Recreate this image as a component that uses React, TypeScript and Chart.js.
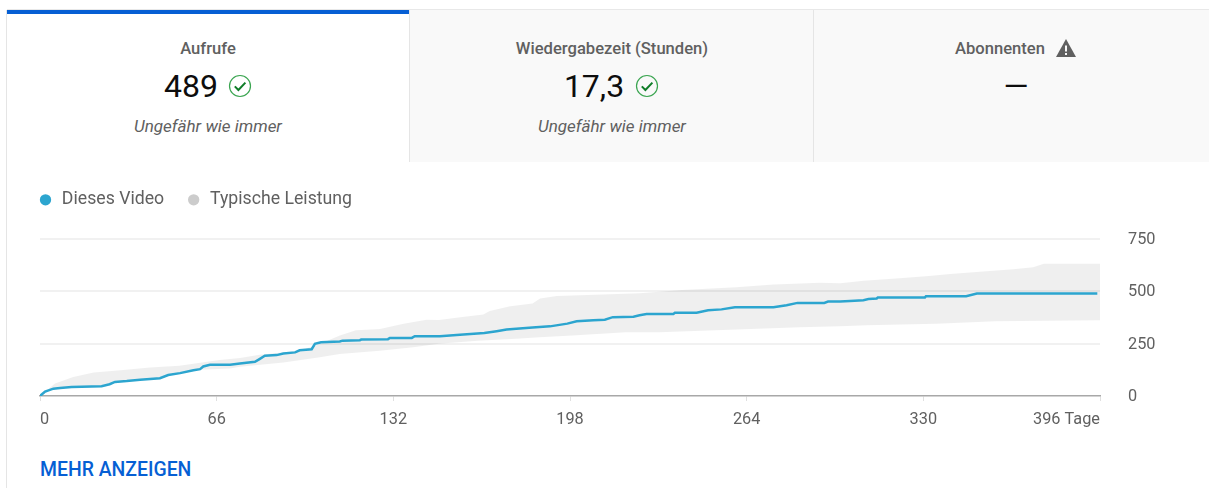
import React, { useEffect, useRef } from "react";
import { Chart, registerables } from "chart.js";

Chart.register(...registerables);

const lineDays = [0, 1.9, 5, 7.5, 11.8, 23, 26, 28, 32.4, 37.4, 44.8, 47.9, 52.3, 57.3, 59.8, 61, 63.5, 71, 74.7, 80.3, 82, 84, 88.4, 90.9, 95.3, 97, 101.5, 102.7, 105, 112, 113, 119.5, 120, 130, 130.7, 138.9, 140, 149.4, 156.9, 166, 170.6, 174.3, 184, 190.5, 197, 200.5, 206.7, 211, 214, 221.7, 224, 226.6, 236.6, 237.2, 245.3, 249.6, 254.6, 259.6, 274, 278.9, 283, 293, 294.4, 298.9, 302.6, 307.6, 309.5, 312.6, 313, 330.6, 331, 346, 350, 395];
const lineValues = [0, 21, 35, 38, 43, 47, 56, 67, 71, 77, 85, 100, 109, 123, 128, 141, 149, 149, 155, 163, 176, 192, 195, 203, 208, 218, 223, 249, 256, 260, 264, 266, 269, 271, 277, 277, 285, 285, 292, 300, 309, 317, 327, 332, 345, 356, 361, 364, 376, 378, 385, 391, 391, 397, 397, 409, 413, 423, 423, 433, 444, 444, 450, 450, 453, 457, 462, 465, 470, 470, 476, 476, 489, 489];
const upperDays = [0, 5.6, 12.4, 20, 30, 41, 52, 67, 74.7, 82, 97, 104, 112, 118, 127, 135.8, 144.4, 149, 157, 165.6, 168, 175.6, 184, 186.8, 193, 224, 239.7, 260, 274, 291.4, 299, 307.6, 321, 332, 340, 351, 363.5, 371, 375, 396];
const upperValues = [0, 60, 91, 112, 123, 136, 144, 172, 181, 197, 216, 245, 288, 313, 320, 345, 364, 362, 376, 388, 405, 428, 441, 465, 477, 490, 505, 518, 532, 540, 537, 550, 561, 572, 582, 593, 604, 614, 630, 630];
const lowerDays = [0, 5, 23, 28, 45, 48, 60, 71, 74.7, 91, 104, 112, 127, 139.5, 149, 163.6, 178, 186.8, 199, 219, 231.6, 257.8, 284, 299, 309, 335, 357, 396];
const lowerValues = [0, 35, 46, 67, 85, 100, 125, 131, 140, 160, 184, 200, 216, 232, 249, 264, 273, 280, 288, 304, 304, 316, 328, 333, 337, 345, 356, 361];
const xTicks = [0, 66, 132, 198, 264, 330, 396];
const yTicks = [0, 250, 500, 750];
const seriesNames = ["Dieses Video", "Typische Leistung"];

const GREY = "#606060";
const FONT = "Roboto, sans-serif";

function zip(xs: number[], ys: number[]) {
  return xs.map((x, i) => ({ x, y: ys[i] }));
}

function Check() {
  return (
    <svg width="24" height="24" viewBox="0 0 24 24" style={{ display: "block" }}>
      <circle cx="12" cy="12" r="10.5" fill="none" stroke="#3ba551" strokeWidth="1.2" />
      <path d="M6.8 12.4l3.6 3.6 7-7.4" fill="none" stroke="#0f7d28" strokeWidth="2" />
    </svg>
  );
}

const abs = (s: React.CSSProperties): React.CSSProperties => ({ position: "absolute", ...s });

function Centered(props: { cx: number; cy: number; style?: React.CSSProperties; children: React.ReactNode }) {
  return (
    <div
      style={abs({
        left: props.cx - 200,
        width: 400,
        top: props.cy - 25,
        height: 50,
        lineHeight: "50px",
        textAlign: "center",
        whiteSpace: "nowrap",
        ...props.style,
      })}
    >
      {props.children}
    </div>
  );
}

export default function App() {
  const ref = useRef<HTMLCanvasElement>(null);

  useEffect(() => {
    const legendGap = {
      id: "legendGap",
      beforeInit(chart: any) {
        const fit = chart.legend.fit;
        chart.legend.fit = function () {
          fit.call(this);
          this.height += 20;
        };
      },
    };
    const chart = new Chart(ref.current!, {
      type: "line",
      plugins: [legendGap],
      data: {
        datasets: [
          {
            label: seriesNames[0],
            data: zip(lineDays, lineValues),
            borderColor: "#2ca5cf",
            backgroundColor: "#2ca5cf",
            borderWidth: 2.5,
            pointRadius: 0,
            fill: false,
            xAxisID: "x",
            yAxisID: "y",
          },
          {
            label: seriesNames[1],
            data: zip(upperDays, upperValues),
            borderWidth: 0,
            borderColor: "transparent",
            backgroundColor: "rgba(0,0,0,0.062)",
            pointRadius: 0,
            fill: "+1",
            xAxisID: "x",
            yAxisID: "y",
          },
          {
            label: "",
            data: zip(lowerDays, lowerValues),
            borderWidth: 0,
            borderColor: "transparent",
            backgroundColor: "transparent",
            pointRadius: 0,
            fill: false,
            xAxisID: "x",
            yAxisID: "y",
          },
        ],
      },
      options: {
        animation: false,
        responsive: false,
        devicePixelRatio: 1,
        layout: { autoPadding: false, padding: 0 },
        plugins: {
          tooltip: { enabled: false },
          legend: {
            display: true,
            position: "top",
            align: "start",
            labels: {
              usePointStyle: true,
              pointStyle: "circle",
              boxHeight: 8,
              boxWidth: 15,
              padding: 22,
              color: GREY,
              font: { family: FONT, size: 17.7 },
              generateLabels: () =>
                seriesNames.map((text, i) => ({
                  text,
                  fillStyle: i === 0 ? "#2ca5cf" : "#cccccc",
                  strokeStyle: "transparent",
                  lineWidth: 0,
                  pointStyle: "circle",
                  fontColor: GREY,
                  datasetIndex: i,
                })),
            },
          },
        },
        scales: {
          x: {
            type: "linear",
            min: 0,
            max: 396,
            afterBuildTicks: (s: any) => {
              s.ticks = xTicks.map((value) => ({ value }));
            },
            afterFit: (s: any) => {
              s.height = 35;
            },
            border: { color: "#a8a8a8", width: 1.5 },
            grid: { drawOnChartArea: false, drawTicks: true, tickLength: 5, color: "#e0e0e0", lineWidth: 1 },
            ticks: {
              autoSkip: false,
              maxRotation: 0,
              align: "inner",
              padding: 9,
              color: GREY,
              font: { family: FONT, size: 16.3 },
              callback: (v: any) => (v === 396 ? `${v} Tage` : `${v}`),
            },
          },
          y: {
            type: "linear",
            position: "right",
            min: 0,
            max: 750,
            afterBuildTicks: (s: any) => {
              s.ticks = yTicks.map((value) => ({ value }));
            },
            afterFit: (s: any) => {
              s.width = 109;
            },
            border: { display: false },
            grid: { color: (c: any) => (c.tick && c.tick.value === 0 ? "transparent" : "#f1f1f1"), lineWidth: 2, drawTicks: false },
            ticks: {
              padding: 28,
              color: GREY,
              font: { family: FONT, size: 16.3, lineHeight: "2px" },
              callback: (v: any) => ["", `${v}`],
            },
          },
          spacer: {
            type: "linear",
            position: "left",
            display: true,
            afterFit: (s: any) => {
              s.width = 24;
            },
            border: { display: false },
            grid: { display: false },
            ticks: { display: false },
          },
        },
      },
    } as any);
    return () => chart.destroy();
  }, []);

  const title: React.CSSProperties = { fontFamily: FONT, fontSize: 16.6, fontWeight: 500, color: GREY };
  const big: React.CSSProperties = { fontFamily: FONT, fontSize: 32, color: "#0d0d0d" };
  const note: React.CSSProperties = { fontFamily: FONT, fontSize: 17, fontStyle: "italic", color: GREY };

  return (
    <div style={{ position: "fixed", inset: 0, background: "#fff", overflow: "hidden", fontFamily: FONT }}>
      <div style={abs({ left: 6, top: 10, width: 1, height: 478, background: "#e5e5e5" })} />
      <div style={abs({ left: 410, top: 10, right: 0, height: 152, background: "#f9f9f9" })} />
      <div style={abs({ left: 7, top: 9, right: 0, height: 1, background: "#e8e8e8" })} />
      <div style={abs({ left: 409, top: 10, width: 1, height: 152, background: "#e5e5e5" })} />
      <div style={abs({ left: 813, top: 10, width: 1, height: 152, background: "#e5e5e5" })} />
      <div style={abs({ left: 7, top: 10, width: 402, height: 4, background: "#065fd4" })} />

      <Centered cx={208} cy={49} style={title}>Aufrufe</Centered>
      <Centered cx={191} cy={86} style={big}>489</Centered>
      <div style={abs({ left: 228, top: 74 })}><Check /></div>
      <Centered cx={208} cy={126} style={note}>Ungefähr wie immer</Centered>

      <Centered cx={612} cy={49} style={title}>Wiedergabezeit (Stunden)</Centered>
      <Centered cx={594} cy={86} style={big}>17,3</Centered>
      <div style={abs({ left: 635, top: 74 })}><Check /></div>
      <Centered cx={612} cy={126} style={note}>Ungefähr wie immer</Centered>

      <Centered cx={1000} cy={49} style={title}>Abonnenten</Centered>
      <svg width="22" height="20" viewBox="0 0 22 20" style={abs({ left: 1055, top: 38 })}>
        <path d="M11 1L21 19H1Z" fill="#606060" />
        <rect x="10" y="7.5" width="2" height="6" fill="#f9f9f9" />
        <rect x="10" y="15" width="2" height="2" fill="#f9f9f9" />
      </svg>
      <Centered cx={1016} cy={86} style={big}>—</Centered>

      <canvas ref={ref} width={1193} height={262} style={abs({ left: 16, top: 169, width: 1193, height: 262 })} />

      <div style={abs({ left: 40, top: 460, fontFamily: FONT, fontSize: 19.4, fontWeight: 500, color: "#065fd4", lineHeight: "20px", whiteSpace: "nowrap" })}>
        MEHR ANZEIGEN
      </div>
    </div>
  );
}
